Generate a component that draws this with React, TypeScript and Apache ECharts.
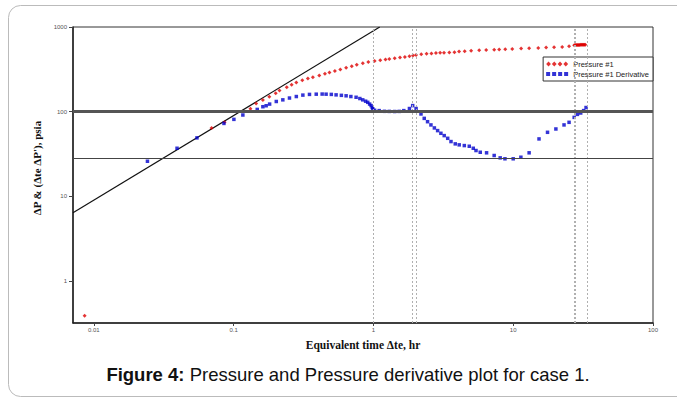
import React, { useEffect, useRef } from "react";
import * as echarts from "echarts";

// ---- data ----
const pressureX = [0.0086, 0.0696, 0.0862, 0.132, 0.145, 0.162, 0.18, 0.2, 0.213, 0.24, 0.26, 0.281, 0.31, 0.34, 0.369, 0.41, 0.45, 0.485, 0.53, 0.58, 0.638, 0.7, 0.76, 0.84, 0.92, 1.02, 1.12, 1.22, 1.3, 1.42, 1.55, 1.68, 1.81, 1.92, 2.02, 2.2, 2.4, 2.6, 2.8, 3.0, 3.2, 3.49, 3.8, 4.1, 4.5, 5.0, 5.71, 6.41, 7.31, 7.94, 8.77, 9.84, 11.4, 13.0, 15.1, 17.2, 19.6, 22.4, 25.1, 27.3, 27.8, 28.3, 28.8, 29.3, 29.8, 30.3, 30.8, 31.3, 31.8, 32.3, 32.8];
const pressureY = [0.39, 64, 75, 108, 125, 137, 150, 165, 178, 195, 208, 221, 235, 246, 255, 268, 280, 290, 302, 314, 330, 345, 358, 372, 385, 398, 405, 412, 418, 428, 437, 443, 452, 460, 468, 476, 483, 488, 492, 495, 497, 500, 505, 512, 518, 525, 532, 536, 539, 542, 546, 550, 556, 561, 566, 571, 577, 582, 592, 610, 612, 612, 614, 614, 615, 616, 616, 617, 617, 618, 618];

const derivX = [0.0242, 0.0394, 0.0547, 0.0853, 0.1005, 0.1165, 0.1476, 0.162, 0.171, 0.181, 0.202, 0.225, 0.251, 0.281, 0.313, 0.349, 0.39, 0.43, 0.459, 0.5, 0.541, 0.59, 0.638, 0.69, 0.752, 0.8, 0.839, 0.88, 0.911, 0.94, 0.963, 0.98, 0.99, 1.02, 1.1, 1.2, 1.3, 1.42, 1.53, 1.65, 1.81, 1.91, 2.02, 2.19, 2.31, 2.44, 2.58, 2.73, 2.88, 3.04, 3.21, 3.4, 3.59, 3.85, 4.11, 4.47, 4.85, 5.18, 5.42, 5.81, 6.45, 7.31, 8.07, 8.73, 10.0, 11.35, 13.0, 15.3, 17.6, 20.2, 23.1, 25.1, 27.3, 28.8, 30.4, 31.9, 33.2];
const derivY = [26.0, 37.0, 49.1, 72.7, 81.2, 91.4, 106.4, 114.5, 117.6, 123, 132, 138, 145, 151, 157, 160, 161, 161.5, 161, 160, 158, 156, 154, 151, 148, 143, 138, 133, 129, 123, 118, 112, 108, 104, 103, 101, 100.8, 100.5, 100.8, 103, 109, 118, 109, 94, 83.4, 76.2, 69.8, 64.3, 59.8, 55.6, 52.2, 48.5, 44.4, 41.7, 40.6, 39.8, 39.1, 37.0, 34.8, 33.2, 32.7, 30.4, 28.5, 27.8, 27.8, 29.0, 32.7, 47.7, 57.1, 62.5, 69.8, 74.9, 85.7, 93, 96.5, 103, 112];

const unitSlopeX = [0.0071, 1.11];
const unitSlopeY = [6.4, 1000];

const stabilX = [1.08, 1.2, 1.33, 1.47, 1.62, 1.78, 1.98, 27.6, 29.5, 31.5];
const stabilY = [100, 100, 100, 100, 100, 100, 100, 100, 100, 100];

const verticalLines = [1.0, 1.91, 2.02, 27.4, 27.9, 33.6];
const radialLevel = 100;
const lowerLevel = 28;

const xRange = [0.0071, 100];
const yRange = [0.32, 1000];

const legendNames = ["Pressure #1", "Pressure #1 Derivative"];
const caption = "Pressure and Pressure derivative plot for case 1.";

const zip = (xs: number[], ys: number[]) => xs.map((x, i) => [x, ys[i]]);

const decadeLabel = (v: number) => {
  const l = Math.log10(v);
  return Math.abs(l - Math.round(l)) < 1e-6 ? String(Number(v.toPrecision(6))) : "";
};

const SANS = "Liberation Sans, Arial, sans-serif";
const SERIF = "Liberation Serif, Times New Roman, serif";

const diamondIcon =
  "path://M0,3L2.5,0.5L5,3L2.5,5.5ZM6,3L8.5,0.5L11,3L8.5,5.5ZM12,3L14.5,0.5L17,3L14.5,5.5ZM18,3L20.5,0.5L23,3L20.5,5.5Z";
const squareIcon =
  "path://M0.5,1H4.5V5H0.5ZM6.5,1H10.5V5H6.5ZM12.5,1H16.5V5H12.5ZM18.5,1H22.5V5H18.5Z";

export default function App() {
  const ref = useRef<HTMLDivElement>(null);
  useEffect(() => {
    if (!ref.current) return;
    const chart = echarts.init(ref.current, null, { renderer: "svg" });
    chart.setOption({
      animation: false,
      backgroundColor: "#ffffff",
      grid: {
        left: 73,
        right: 24,
        top: 27,
        bottom: 75,
        show: true,
        borderColor: "#333",
        borderWidth: 1,
        backgroundColor: "transparent",
      },
      legend: {
        orient: "vertical",
        right: 24,
        top: 57,
        backgroundColor: "#fff",
        borderColor: "#333",
        borderWidth: 1,
        borderRadius: 0,
        padding: [3, 4, 3, 3],
        itemGap: 2,
        itemWidth: 22,
        itemHeight: 5,
        textStyle: { fontSize: 7.5, color: "#222", fontFamily: SANS },
        data: [
          { name: legendNames[0], icon: diamondIcon },
          { name: legendNames[1], icon: squareIcon },
        ],
      },
      xAxis: {
        type: "log",
        logBase: 10,
        min: xRange[0],
        max: xRange[1],
        name: "Equivalent time \u0394te, hr",
        nameLocation: "middle",
        nameGap: 16,
        nameTextStyle: {
          fontFamily: SERIF,
          fontWeight: "bold",
          fontSize: 11.5,
          color: "#111",
          verticalAlign: "top",
        },
        axisLine: { lineStyle: { color: "#222", width: 1.5 } },
        axisTick: { show: true, length: 3, lineStyle: { color: "#444" } },
        axisLabel: {
          formatter: decadeLabel,
          fontSize: 6,
          color: "#555",
          fontFamily: SANS,
          margin: 4,
          showMinLabel: false,
        },
        splitLine: { show: false },
        minorTick: { show: false },
      },
      yAxis: {
        type: "log",
        logBase: 10,
        min: yRange[0],
        max: yRange[1],
        name: "\u0394P & (\u0394te \u0394P'), psia",
        nameLocation: "middle",
        nameGap: 24,
        nameTextStyle: {
          fontFamily: SERIF,
          fontWeight: "bold",
          fontSize: 11,
          color: "#111",
          padding: [0, 0, 0, 14],
        },
        axisLine: { lineStyle: { color: "#222", width: 1.5 } },
        axisTick: { show: true, length: 4, lineStyle: { color: "#444" } },
        axisLabel: {
          formatter: decadeLabel,
          fontSize: 6,
          color: "#555",
          fontFamily: SANS,
          margin: 6,
          showMinLabel: false,
        },
        splitLine: { show: false },
      },
      graphic: [
        {
          type: "rect",
          shape: { x: 8.5, y: 5.5, width: 700, height: 391, r: 12 },
          style: { fill: "none", stroke: "#bbb", lineWidth: 1 },
          silent: true,
          z: -1,
        },
        {
          type: "text",
          x: 348,
          y: 374,
          style: {
            text: "{b|Figure 4:}{n| " + caption + "}",
            textAlign: "center",
            textVerticalAlign: "middle",
            fill: "#111",
            rich: {
              b: { fontWeight: "bold", fontSize: 18.5, fontFamily: SANS, fill: "#111" },
              n: { fontSize: 18.5, fontFamily: SANS, fill: "#111" },
            },
          },
        },
      ],
      series: [
        {
          name: "unitSlope",
          type: "line",
          data: zip(unitSlopeX, unitSlopeY),
          showSymbol: false,
          symbol: "none",
          lineStyle: { color: "#111", width: 1.2 },
          silent: true,
          z: 1,
          markLine: {
            silent: true,
            symbol: "none",
            label: { show: false },
            animation: false,
            data: [
              ...verticalLines.map((v) => ({
                xAxis: v,
                lineStyle: { color: "#b0b0b0", width: 1, type: [2, 2] },
              })),
              { yAxis: radialLevel, lineStyle: { color: "#555", width: 3, type: "solid" } },
              { yAxis: lowerLevel, lineStyle: { color: "#444", width: 1.2, type: "solid" } },
            ],
          },
        },
        {
          name: "stabilization",
          type: "scatter",
          data: zip(stabilX, stabilY),
          symbol: "circle",
          symbolSize: 2.5,
          itemStyle: { color: "#c8c83a" },
          silent: true,
          z: 3,
        },
        {
          name: legendNames[0],
          type: "scatter",
          data: zip(pressureX, pressureY),
          symbol: "diamond",
          symbolSize: 4,
          itemStyle: { color: "#dd0000" },
          z: 4,
        },
        {
          name: legendNames[1],
          type: "scatter",
          data: zip(derivX, derivY),
          symbol: "rect",
          symbolSize: 3.5,
          itemStyle: { color: "#0000cc" },
          z: 4,
        },
      ],
    });
    return () => chart.dispose();
  }, []);
  return (
    <div
      ref={ref}
      style={{ position: "fixed", left: 0, top: 0, width: 677, height: 398, background: "#fff" }}
    />
  );
}
